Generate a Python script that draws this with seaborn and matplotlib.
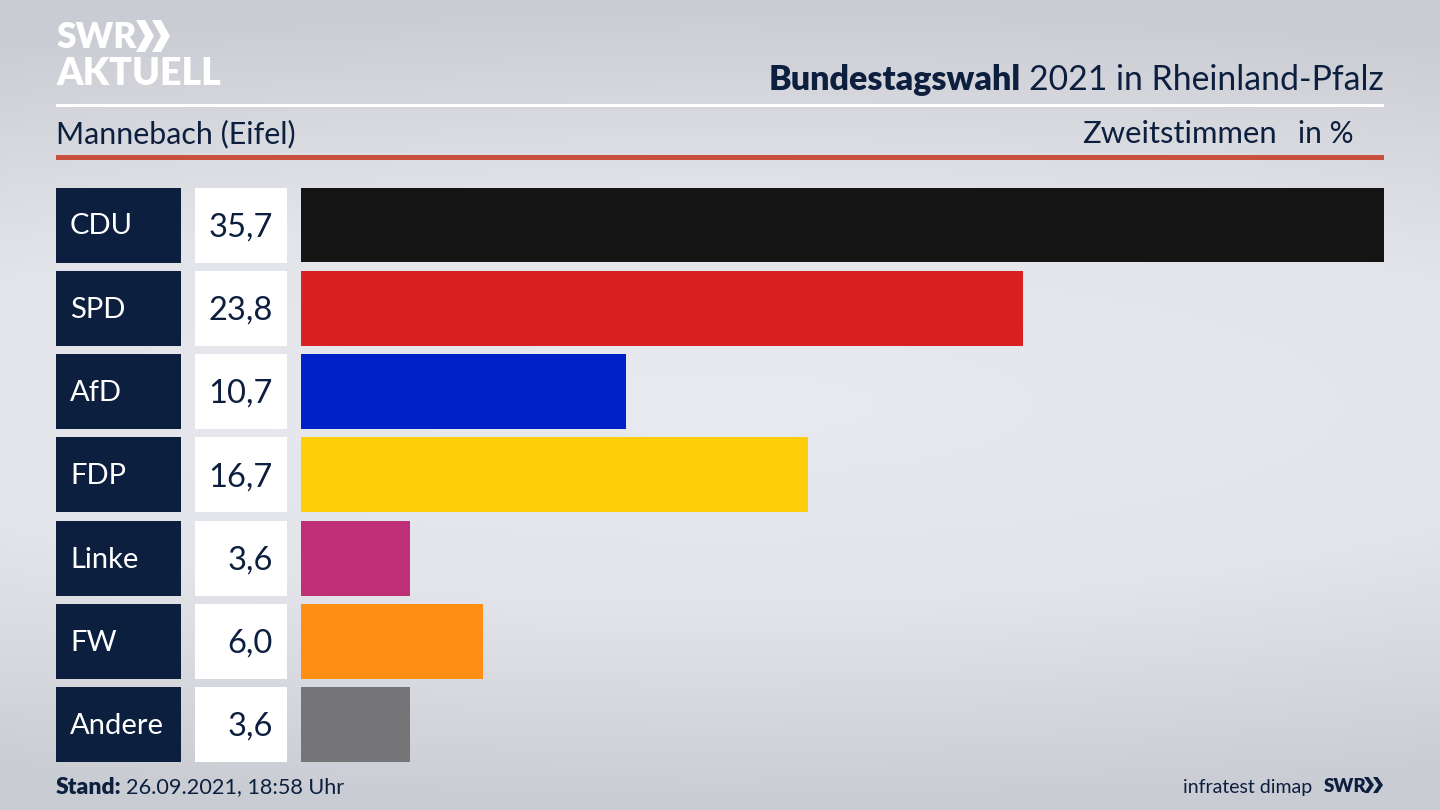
import numpy as np
import pandas as pd
import matplotlib
matplotlib.use("Agg")
import matplotlib.pyplot as plt
from matplotlib.patches import Rectangle, Polygon
import seaborn as sns

parties = ["CDU", "SPD", "AfD", "FDP", "Linke", "FW", "Andere"]
values = [35.7, 23.8, 10.7, 16.7, 3.6, 6.0, 3.6]
value_labels = ["35,7", "23,8", "10,7", "16,7", "3,6", "6,0", "3,6"]
colors = ["#141414", "#da211f", "#0020c8", "#ffcd0a", "#bf2f78", "#ff8f14", "#757577"]

W, H = 1440, 810
NAVY = "#0c1f3f"
FONT = "Lato"
fig = plt.figure(figsize=(14.4, 8.1), dpi=100)

bg = fig.add_axes([0, 0, 1, 1], zorder=0)
bg.set_xlim(0, W); bg.set_ylim(H, 0); bg.axis("off")
yy = np.abs(np.linspace(-1, 1, 256)).reshape(-1, 1)
xx = np.abs(np.linspace(-1, 1, 256)).reshape(1, -1)
r = np.sqrt(yy**2 + 0.15 * xx**2)
cm = matplotlib.colors.LinearSegmentedColormap.from_list("b", ["#e9eaef", "#e3e4e9", "#caccd3"])
bg.imshow(np.clip(r, 0, 1), cmap=cm, extent=[0, W, H, 0], aspect="auto", vmin=0, vmax=1)

# header
bg.add_patch(Rectangle((56, 104), 1328, 3, color="white", lw=0))
bg.add_patch(Rectangle((56, 155), 1328, 5, color="#c8503f", lw=0))
bg.text(769, 80, "Bundestagswahl", fontfamily=FONT, fontweight="black", fontsize=24.5, color=NAVY, va="center", ha="left")
bg.text(1384, 80, "2021 in Rheinland-Pfalz", fontfamily=FONT, fontsize=24.3, color=NAVY, va="center", ha="right")
bg.text(56, 134, "Mannebach (Eifel)", fontfamily=FONT, fontsize=21.9, color=NAVY, va="center")
bg.text(1277, 134, "Zweitstimmen", fontfamily=FONT, fontsize=22.3, color=NAVY, va="center", ha="right")
bg.text(1354, 134, "in %", fontfamily=FONT, fontsize=21.5, color=NAVY, va="center", ha="right")

# logo
bg.text(56, 38, "SWR", fontfamily=FONT, fontweight="black", fontsize=25.5, color="white", va="center")
bg.text(56, 74, "AKTUELL", fontfamily=FONT, fontweight="black", fontsize=27, color="white", va="center")
for x0 in (136, 152):
    bg.add_patch(Polygon([(x0, 20), (x0+9, 20), (x0+18, 36), (x0+9, 52), (x0, 52), (x0+9, 36)], color="white", lw=0))

# footer
bg.text(56, 787, "Stand:", fontfamily=FONT, fontweight="black", fontsize=16.5, color=NAVY, va="center")
bg.text(126, 787, "26.09.2021, 18:58 Uhr", fontfamily=FONT, fontsize=15.6, color=NAVY, va="center")
bg.text(1312, 787, "infratest dimap", fontfamily=FONT, fontsize=14, color=NAVY, va="center", ha="right")
bg.text(1324, 786, "SWR", fontfamily=FONT, fontweight="black", fontsize=13.5, color=NAVY, va="center")
for x0 in (1364, 1373):
    bg.add_patch(Polygon([(x0, 777), (x0+4.5, 777), (x0+10, 785), (x0+4.5, 793), (x0, 793), (x0+5.5, 785)], color=NAVY, lw=0))

# left label boxes
row_top = [187.5 + 83.25 * i for i in range(7)]
for top, p, v in zip(row_top, parties, value_labels):
    bg.add_patch(Rectangle((56, top), 125, 75, color=NAVY, lw=0))
    bg.add_patch(Rectangle((195, top), 92, 75, color="white", lw=0))
    bg.text(70, top + 39, p, fontfamily=FONT, fontsize=21, color="white", va="center")
    bg.text(273, top + 40, v, fontfamily=FONT, fontsize=23.5, color=NAVY, va="center", ha="right")

# bars
ax = fig.add_axes([301 / W, 1 - 762 / H, (1384 - 301) / W, (762 - 187.5) / H], zorder=1)
ax.patch.set_alpha(0)
df = pd.DataFrame({"party": parties, "value": values})
sns.barplot(data=df, y="party", x="value", hue="party", palette=colors, legend=False,
            width=75 / 83.25, saturation=1, ax=ax)
ax.set_xlim(0, 35.7)
ax.set_ylim(6.45, -0.45)
ax.axis("off")

fig.savefig("out.png", dpi=100)
